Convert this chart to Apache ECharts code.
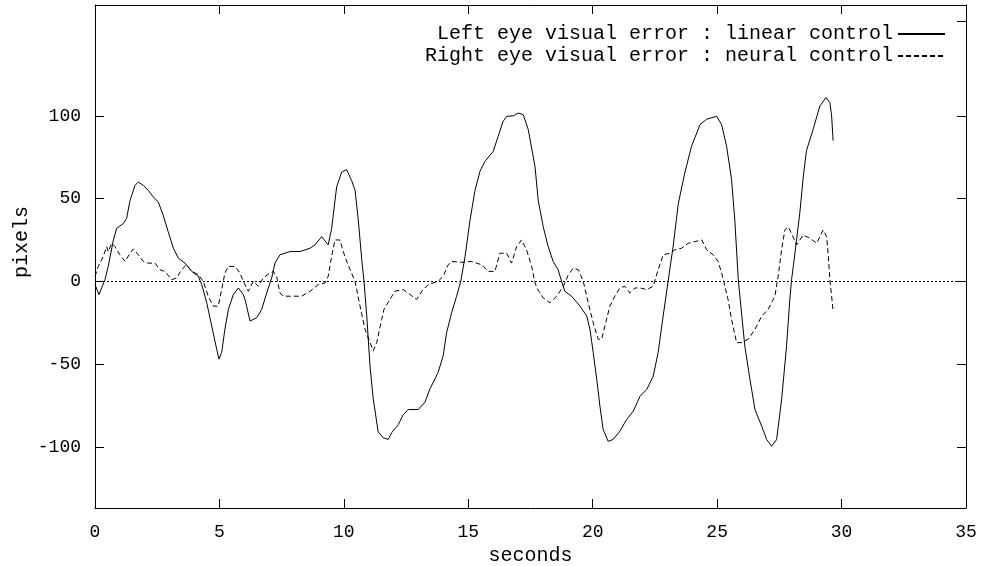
<!DOCTYPE html>
<html>
<head>
<meta charset="utf-8">
<script src="https://cdn.jsdelivr.net/npm/echarts@6/dist/echarts.min.js"></script>
<style>
html,body{margin:0;padding:0;background:#fff;}
#chart{width:985px;height:566px;}
</style>
</head>
<body>
<div id="chart"></div>
<script>
// Series names
const linearName = 'Left eye visual error : linear control';
const neuralName = 'Right eye visual error : neural control';

// Left eye, linear control: time (s) and error (pixels)
const linearT = [0, 0.16, 0.40, 0.53, 0.74, 0.87, 1.14, 1.27, 1.41, 1.61,
  1.74, 1.94, 2.14, 2.34, 2.54, 2.74, 2.94, 3.15, 3.35, 3.62,
  3.89, 4.15, 4.29, 4.49, 4.69, 4.89, 4.98, 5.09, 5.22, 5.36,
  5.56, 5.76, 5.96, 6.03, 6.23, 6.50, 6.70, 6.90, 7.10, 7.23,
  7.43, 7.83, 8.24, 8.64, 8.84, 9.11, 9.37, 9.51, 9.71, 9.91,
  10.11, 10.31, 10.45, 10.58, 10.72, 10.81, 10.92, 11.05, 11.18, 11.38,
  11.58, 11.78, 11.92, 12.19, 12.39, 12.59, 12.99, 13.26, 13.46, 13.79,
  13.99, 14.13, 14.33, 14.53, 14.70, 14.87, 15.07, 15.27, 15.47, 15.67,
  16.00, 16.20, 16.40, 16.54, 16.81, 17.01, 17.21, 17.41, 17.68, 17.81,
  18.01, 18.21, 18.41, 18.61, 18.75, 18.88, 19.15, 19.49, 19.76, 19.89,
  20.02, 20.16, 20.29, 20.42, 20.62, 20.82, 21.09, 21.36, 21.63, 21.90,
  22.17, 22.43, 22.63, 22.83, 23.03, 23.23, 23.44, 23.70, 23.97, 24.31,
  24.58, 24.98, 25.18, 25.38, 25.58, 25.71, 25.85, 25.98, 26.11, 26.32,
  26.52, 26.79, 26.99, 27.19, 27.39, 27.59, 27.79, 27.92, 27.99, 28.06,
  28.19, 28.32, 28.46, 28.59, 28.86, 29.13, 29.37, 29.53, 29.60, 29.66];
const linearY = [-2, -8, 1, 9, 25, 32, 35, 38, 49, 58,
  60, 58, 55, 51, 48, 40, 30, 20, 14, 11,
  6, 3, -2, -13, -27, -41, -47, -43, -29, -17,
  -8, -4, -8, -11, -24, -22, -17, -7, 2, 11,
  16, 18, 18, 20, 22, 27, 22, 32, 57, 66,
  67.5, 61, 55, 37, 13, 0, -21, -51, -71, -91,
  -94.5, -95.6, -91.5, -86.6, -80.5, -77.5, -77.5, -73, -65, -55,
  -45, -31, -19, -9, 0, 15, 37, 55, 66.5, 72.5,
  78.5, 87.6, 96.7, 99.7, 100, 101.7, 100.7, 91.7, 69.5, 49,
  33, 21, 12, 7, 0, -6, -9, -15, -21, -29,
  -43, -59, -75.5, -89.6, -96.7, -95.6, -90.6, -83.6, -78.5, -69.5,
  -65.4, -57.4, -43, -21, 0, 21, 47, 65.5, 81.6, 94.7,
  98, 99.7, 94.7, 81.6, 61.5, 37, 1, -19, -39, -59.4,
  -77.5, -87.6, -95.6, -99.7, -95.6, -71.5, -39, -11, 1, 9,
  25, 41, 63, 79, 92, 106, 111, 108, 100, 85];

// Right eye, neural control: time (s) and error (pixels)
const neuralT = [0, 0.13, 0.33, 0.47, 0.53, 0.67, 0.80, 1.00, 1.21, 1.41,
  1.54, 1.74, 1.94, 2.14, 2.41, 2.61, 2.81, 3.08, 3.28, 3.48,
  3.68, 3.89, 4.15, 4.35, 4.55, 4.75, 4.95, 5.09, 5.22, 5.36,
  5.62, 5.83, 5.96, 6.16, 6.36, 6.56, 6.76, 7.03, 7.16, 7.30,
  7.43, 7.57, 7.97, 8.30, 8.64, 8.97, 9.24, 9.37, 9.51, 9.64,
  9.84, 10.04, 10.25, 10.45, 10.65, 10.85, 11.05, 11.18, 11.32, 11.52,
  11.61, 11.85, 12.05, 12.39, 12.66, 12.92, 13.13, 13.39, 13.79, 13.99,
  14.19, 14.33, 14.73, 15.13, 15.54, 15.80, 16.07, 16.27, 16.54, 16.74,
  16.94, 17.14, 17.34, 17.55, 17.65, 17.75, 18.01, 18.28, 18.55, 18.82,
  19.02, 19.22, 19.42, 19.62, 19.82, 20.02, 20.22, 20.36, 20.49, 20.69,
  20.89, 21.09, 21.29, 21.49, 21.70, 21.90, 22.17, 22.43, 22.63, 22.83,
  23.10, 23.30, 23.57, 23.84, 24.11, 24.38, 24.58, 24.84, 25.04, 25.18,
  25.31, 25.44, 25.58, 25.78, 25.98, 26.25, 26.52, 26.79, 27.05, 27.32,
  27.45, 27.59, 27.72, 27.85, 27.99, 28.19, 28.46, 28.73, 29.00, 29.26,
  29.40, 29.46, 29.53, 29.60, 29.66];
const neuralY = [3, 9, 15, 21, 18, 23, 21, 16, 12, 17,
  19.6, 16, 12, 11, 11, 7, 6, 1, 2, 7,
  10, 6, 4, 0, -9, -15, -15, -5, 5, 9,
  9, 5, 0, -6, 0, -3, 2, 5, 6, 3,
  -7, -9, -9, -9, -6, -2, -1, 3, 15, 25,
  25, 15, 7, 0, -15, -29, -37, -42, -37, -23,
  -17, -11, -6, -5, -8, -11, -6, -2, 0, 3,
  10, 12, 11.5, 12, 10, 6, 6, 17, 17, 11,
  21, 25, 19, 9, 1, -4, -10, -13, -9, -3,
  4, 8, 7, 0, -13, -25, -35, -35, -27, -15,
  -9, -4, -3, -7, -4, -4, -5, -3, 7, 16,
  17, 19, 20, 23, 24, 25, 19, 16, 12, 5,
  -3, -11, -23, -37, -37, -35, -29, -21, -17, -9,
  3, 19, 31, 33, 29, 22, 28, 26, 23, 31,
  27, 17, 1, -9, -18];

// Axis ticks
const xTicks = [0, 5, 10, 15, 20, 25, 30, 35];
const yTicks = [-100, -50, 0, 50, 100];
const y2Ticks = [-100, -50, 0, 50, 100, 157];

const pairs = (t, y) => t.map((v, i) => [v, y[i]]);
const FONT = '"Liberation Mono", "DejaVu Sans Mono", monospace';

const chart = echarts.init(document.getElementById('chart'));
const frameLine = { show: true, onZero: false, lineStyle: { color: '#000', width: 1 } };
const tickIn = { show: true, inside: true, length: 9, lineStyle: { color: '#000', width: 1 } };
const legendBase = {
  right: 39, align: 'right', itemWidth: 47, itemHeight: 14, padding: 0,
  selectedMode: false,
  itemStyle: { opacity: 0, color: 'transparent', borderWidth: 0 },
  textStyle: { fontFamily: FONT, fontSize: 20, color: '#000' }
};

chart.setOption({
  animation: false,
  backgroundColor: '#fff',
  grid: { left: 95, right: 19, top: 5, bottom: 58, containLabel: false, outerBoundsMode: 'none' },
  legend: [
    Object.assign({ data: [linearName], top: 24 }, legendBase),
    Object.assign({ data: [neuralName], top: 46 }, legendBase)
  ],
  xAxis: [
    { type: 'value', position: 'bottom', min: xTicks[0], max: xTicks[xTicks.length - 1], interval: 5,
      axisLine: frameLine, axisTick: tickIn, splitLine: { show: false },
      axisLabel: { margin: 15, fontFamily: FONT, fontSize: 18, color: '#000' },
      name: 'seconds', nameLocation: 'middle', nameGap: 31,
      nameTextStyle: { fontFamily: FONT, fontSize: 20, color: '#000' } },
    { type: 'value', position: 'top', min: xTicks[0], max: xTicks[xTicks.length - 1], interval: 5,
      axisLine: frameLine, axisTick: tickIn, splitLine: { show: false }, axisLabel: { show: false } }
  ],
  yAxis: [
    { type: 'value', position: 'left', min: -137, max: 167,
      axisLine: frameLine, axisTick: Object.assign({ customValues: yTicks }, tickIn), splitLine: { show: false },
      axisLabel: { customValues: yTicks, margin: 14, fontFamily: FONT, fontSize: 18, color: '#000' } },
    { type: 'value', position: 'right', min: -137, max: 167,
      axisLine: frameLine, axisTick: Object.assign({ customValues: y2Ticks }, tickIn), splitLine: { show: false },
      axisLabel: { show: false } }
  ],
  graphic: [
    { type: 'text', x: 22, y: 242, rotation: Math.PI / 2, silent: true,
      style: { text: 'pixels', font: '20px ' + FONT, fill: '#000', align: 'center', verticalAlign: 'middle' } }
  ],
  series: [
    { name: linearName, type: 'line', data: pairs(linearT, linearY), symbol: 'none',
      lineStyle: { color: '#000', width: 1, type: 'solid' }, itemStyle: { color: '#000' },
      markLine: { silent: true, symbol: ['none', 'none'], label: { show: false },
        lineStyle: { color: '#000', width: 1, type: [2, 2] }, data: [{ yAxis: 0 }] } },
    { name: neuralName, type: 'line', data: pairs(neuralT, neuralY), symbol: 'none',
      lineStyle: { color: '#000', width: 1, type: [5, 3] }, itemStyle: { color: '#000' } }
  ]
});
</script>
</body>
</html>
